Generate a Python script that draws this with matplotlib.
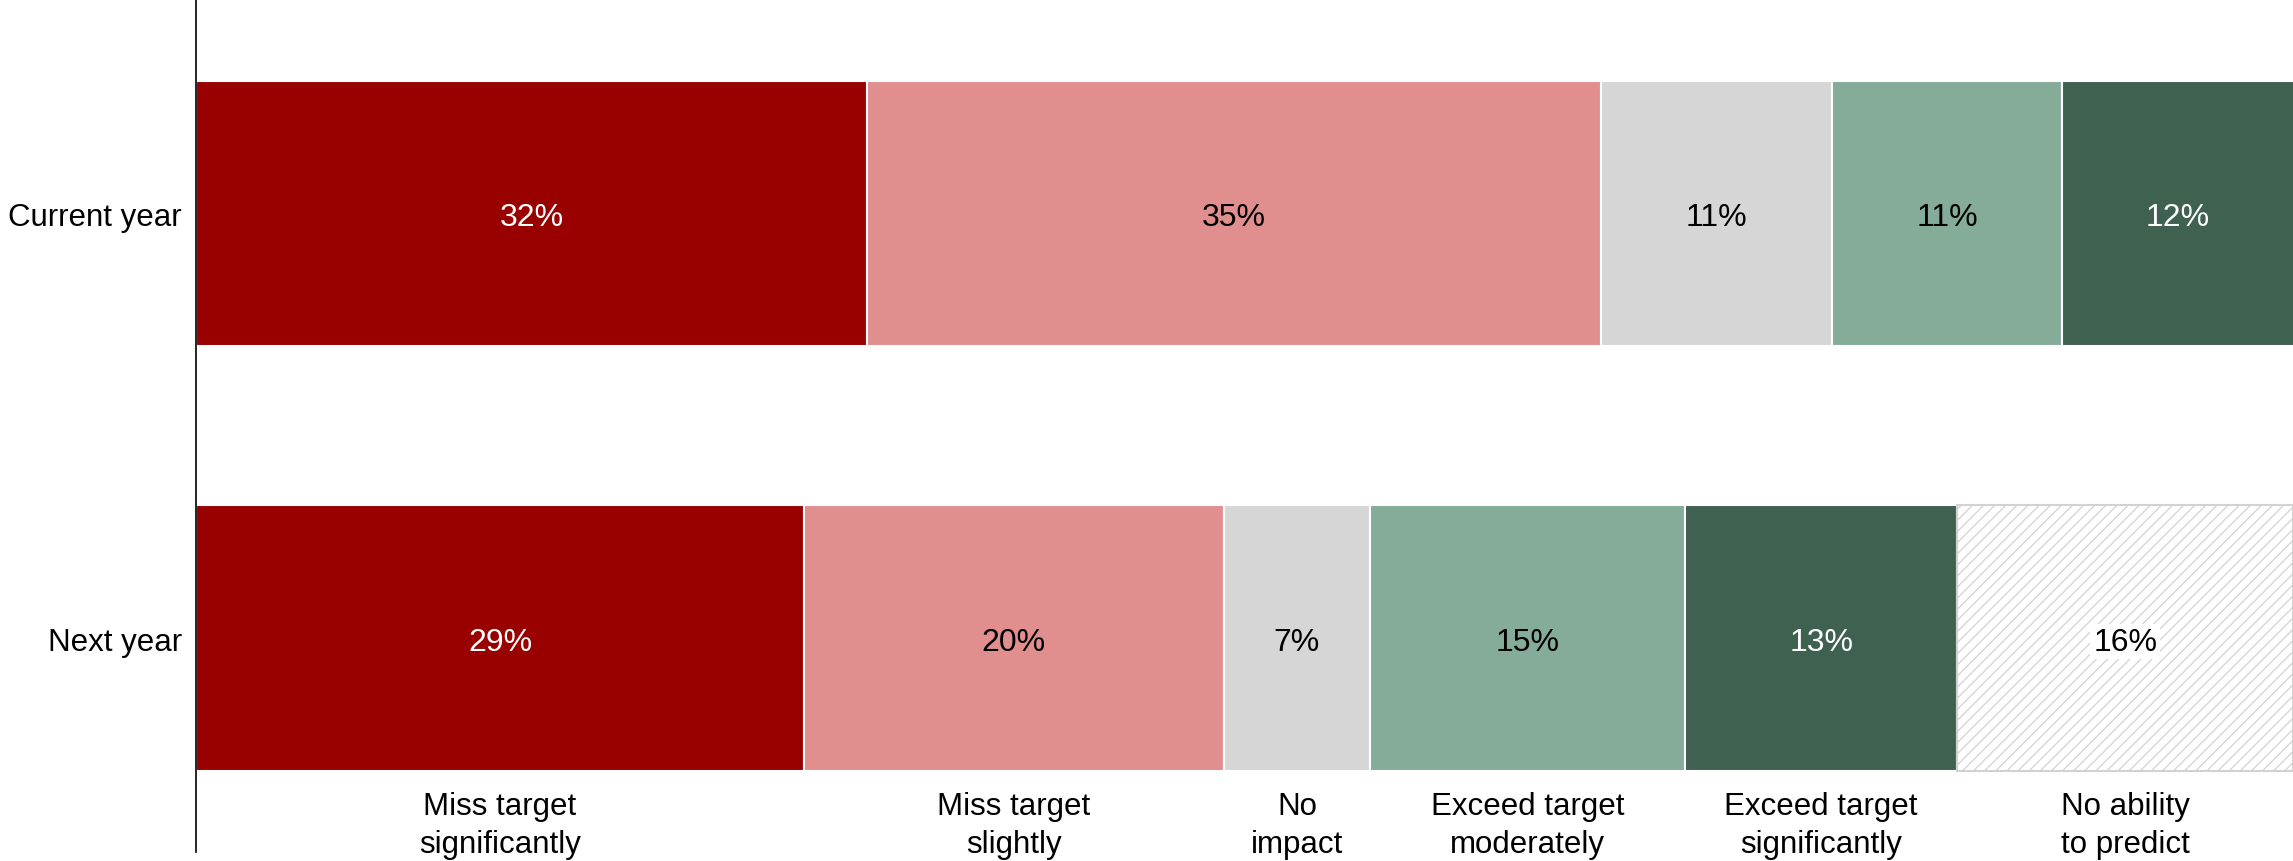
import numpy as np
import matplotlib
matplotlib.use("Agg")
import matplotlib.pyplot as plt

plt.rcParams['font.family'] = ['Liberation Sans', 'DejaVu Sans']
plt.rcParams['hatch.linewidth'] = 0.9

# Survey answers, share of respondents (%)
rows = ["Current year", "Next year"]
categories = ["Miss target\nsignificantly", "Miss target\nslightly", "No\nimpact",
              "Exceed target\nmoderately", "Exceed target\nsignificantly", "No ability\nto predict"]
current_year = [32, 35, 11, 11, 12]
next_year = [29, 20, 7, 15, 13, 16]

colors = ["#990000", "#E08E8E", "#D6D6D6", "#84AC99", "#3E6150", "white"]
text_colors = ["white", "black", "black", "black", "white", "black"]

fig = plt.figure(figsize=(22.93, 8.62), dpi=100)
ax = fig.add_axes([196/2293, 9/862, 1 - 196/2293, 853/862])

bar_h = 0.625
xmax = 100

def draw_row(values, ypos, label_below=False):
    left = 0
    for i, v in enumerate(values):
        if i == 5:
            # "no ability to predict" gets a hatched fill
            ax.barh(ypos, v, left=left, height=bar_h, color="white",
                    edgecolor="#D2D2D2", hatch="///", linewidth=1.5)
        else:
            ax.barh(ypos, v, left=left, height=bar_h, color=colors[i],
                    edgecolor="white", linewidth=1.5)
        # keep the label on the visible part of the segment
        mid = (left + min(left + v, xmax)) / 2
        kw = {}
        if i == 5:
            kw["bbox"] = dict(facecolor="white", edgecolor="none", pad=2)
        ax.text(mid, ypos, "{}%".format(v), ha="center", va="center_baseline",
                color=text_colors[i], fontsize=23, **kw)
        if label_below:
            ax.text(left + v / 2, ypos - 0.44, categories[i], ha="center",
                    va="center", fontsize=22.5, linespacing=1.35)
        left += v

draw_row(current_year, 1)
draw_row(next_year, 0, label_below=True)

ax.set_xlim(0, xmax)
ax.set_ylim(-0.504, 1.505)
ax.set_yticks([1, 0])
ax.set_yticklabels(rows, fontsize=22.5)
ax.tick_params(axis="y", length=0, pad=10)
ax.set_xticks([])

for s in ["top", "right", "bottom"]:
    ax.spines[s].set_visible(False)
ax.spines["left"].set_linewidth(1.2)
ax.spines["left"].set_color("black")

plt.savefig("out.png", dpi=100)
